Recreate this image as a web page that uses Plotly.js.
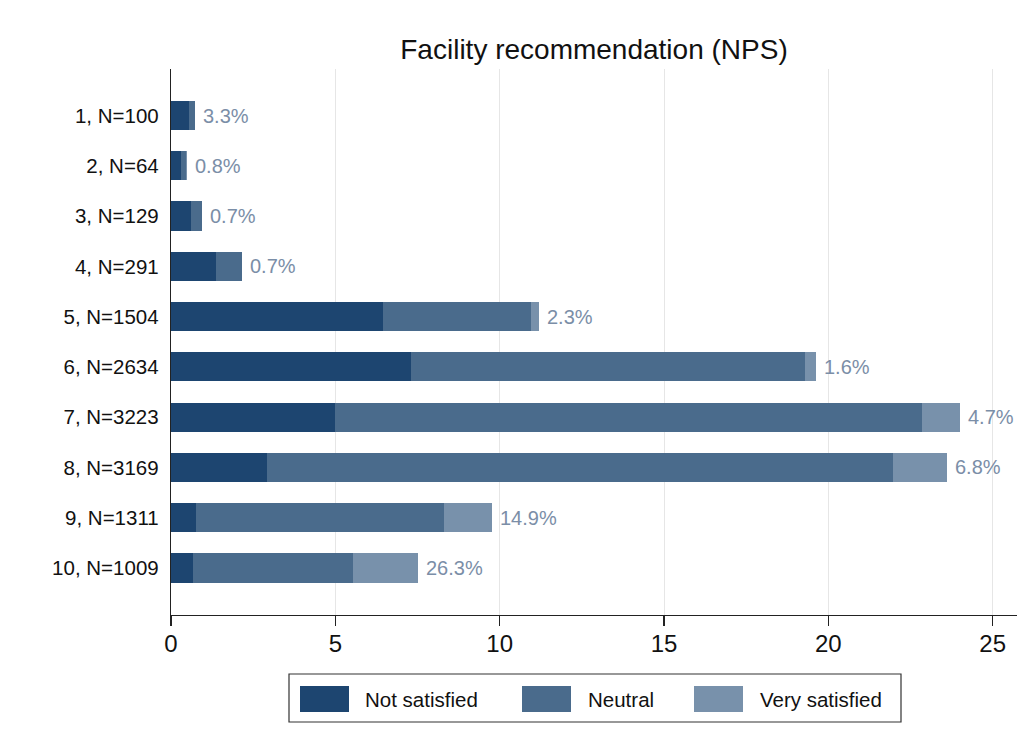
<!DOCTYPE html>
<html>
<head>
<meta charset="utf-8">
<script src="https://cdn.plot.ly/plotly-3.0.1.min.js"></script>
<style>
  html, body { margin: 0; padding: 0; background: #ffffff; }
  #chart { width: 1033px; height: 751px; }
</style>
</head>
<body>
<div id="chart"></div>
<script>
// ---- data ----
const scores = [1, 2, 3, 4, 5, 6, 7, 8, 9, 10];
const nResp = [100, 64, 129, 291, 1504, 2634, 3223, 3169, 1311, 1009];
const notSatisfied = [0.55, 0.30, 0.60, 1.36, 6.45, 7.30, 5.00, 2.91, 0.77, 0.68];
const neutral = [0.17, 0.17, 0.35, 0.79, 4.49, 11.99, 17.86, 19.06, 7.54, 4.86];
const verySatisfied = [0.025, 0.006, 0.007, 0.015, 0.26, 0.32, 1.14, 1.63, 1.45, 1.98];
const pctLabels = ["3.3%", "0.8%", "0.7%", "0.7%", "2.3%", "1.6%", "4.7%", "6.8%", "14.9%", "26.3%"];
const seriesNames = ["Not satisfied", "Neutral", "Very satisfied"];

// ---- styling ----
const FONT = "Liberation Sans, Arial, Helvetica, sans-serif";
const colors = ["#1d4570", "#4a6b8c", "#7891ab"];
const labelColor = "#7b8ea7";

const categories = scores.map((s, i) => s + ", N=" + nResp[i]);
const seriesValues = [notSatisfied, neutral, verySatisfied];

const traces = seriesValues.map((vals, k) => ({
  type: "bar",
  orientation: "h",
  name: seriesNames[k],
  y: categories,
  x: vals,
  marker: { color: colors[k], line: { width: 0 } },
  hoverinfo: "x+y+name",
  showlegend: false
}));

const totals = categories.map((c, i) => notSatisfied[i] + neutral[i] + verySatisfied[i]);
const annotations = categories.map((c, i) => ({
  x: totals[i], y: c, xref: "x", yref: "y",
  text: pctLabels[i], showarrow: false,
  xanchor: "left", yanchor: "middle", xshift: 6,
  font: { family: FONT, size: 20, color: labelColor }
}));

// ---- manual legend (pixel layout converted to paper coords) ----
const PL = 171, PR = 1017, PT = 69, PB = 615;
const px = v => (v - PL) / (PR - PL);
const py = v => (PB - v) / (PB - PT);
const shapes = [{
  type: "rect", xref: "paper", yref: "paper",
  x0: px(289), x1: px(901), y0: py(674), y1: py(722),
  line: { color: "#333333", width: 1.2 }, fillcolor: "#ffffff"
}];
const swatchX = [300, 522, 694];
const textX = [363, 586, 758];
seriesNames.forEach((nm, k) => {
  shapes.push({
    type: "rect", xref: "paper", yref: "paper",
    x0: px(swatchX[k]), x1: px(swatchX[k] + 49), y0: py(686), y1: py(712),
    line: { width: 0 }, fillcolor: colors[k]
  });
  annotations.push({
    xref: "paper", yref: "paper", x: px(textX[k]), y: py(699),
    text: nm, showarrow: false, xanchor: "left", yanchor: "middle",
    font: { family: FONT, size: 20.5, color: "#111111" }
  });
});

const layout = {
  width: 1033, height: 751,
  margin: { l: PL, r: 1033 - PR, t: PT, b: 751 - PB, pad: 0 },
  paper_bgcolor: "#ffffff", plot_bgcolor: "#ffffff",
  barmode: "stack", bargap: 0.42,
  font: { family: FONT, color: "#111111" },
  title: {
    text: "Facility recommendation (NPS)",
    x: 0.5, xref: "paper", xanchor: "center",
    y: 1 - 49 / 751, yref: "container", yanchor: "middle",
    font: { family: FONT, size: 28, color: "#111111" }
  },
  xaxis: {
    range: [0, 25.74], tickvals: [0, 5, 10, 15, 20, 25],
    showgrid: true, gridcolor: "#e6e6e6", gridwidth: 1,
    zeroline: false, showline: true, linecolor: "#222222", linewidth: 1.2,
    ticks: "outside", ticklen: 10, tickwidth: 1.2, tickcolor: "#222222",
    ticklabelstandoff: -3,
    tickfont: { family: FONT, size: 24, color: "#111111" },
    fixedrange: true
  },
  yaxis: {
    type: "category", range: [9.935, -0.925],
    showgrid: false, zeroline: false, showline: true, linecolor: "#222222", linewidth: 1.2,
    ticks: "", ticklabelstandoff: 7,
    tickfont: { family: FONT, size: 20.5, color: "#111111" },
    fixedrange: true
  },
  shapes: shapes,
  annotations: annotations,
  showlegend: false
};

Plotly.newPlot("chart", traces, layout, { displayModeBar: false, staticPlot: true });
</script>
</body>
</html>
